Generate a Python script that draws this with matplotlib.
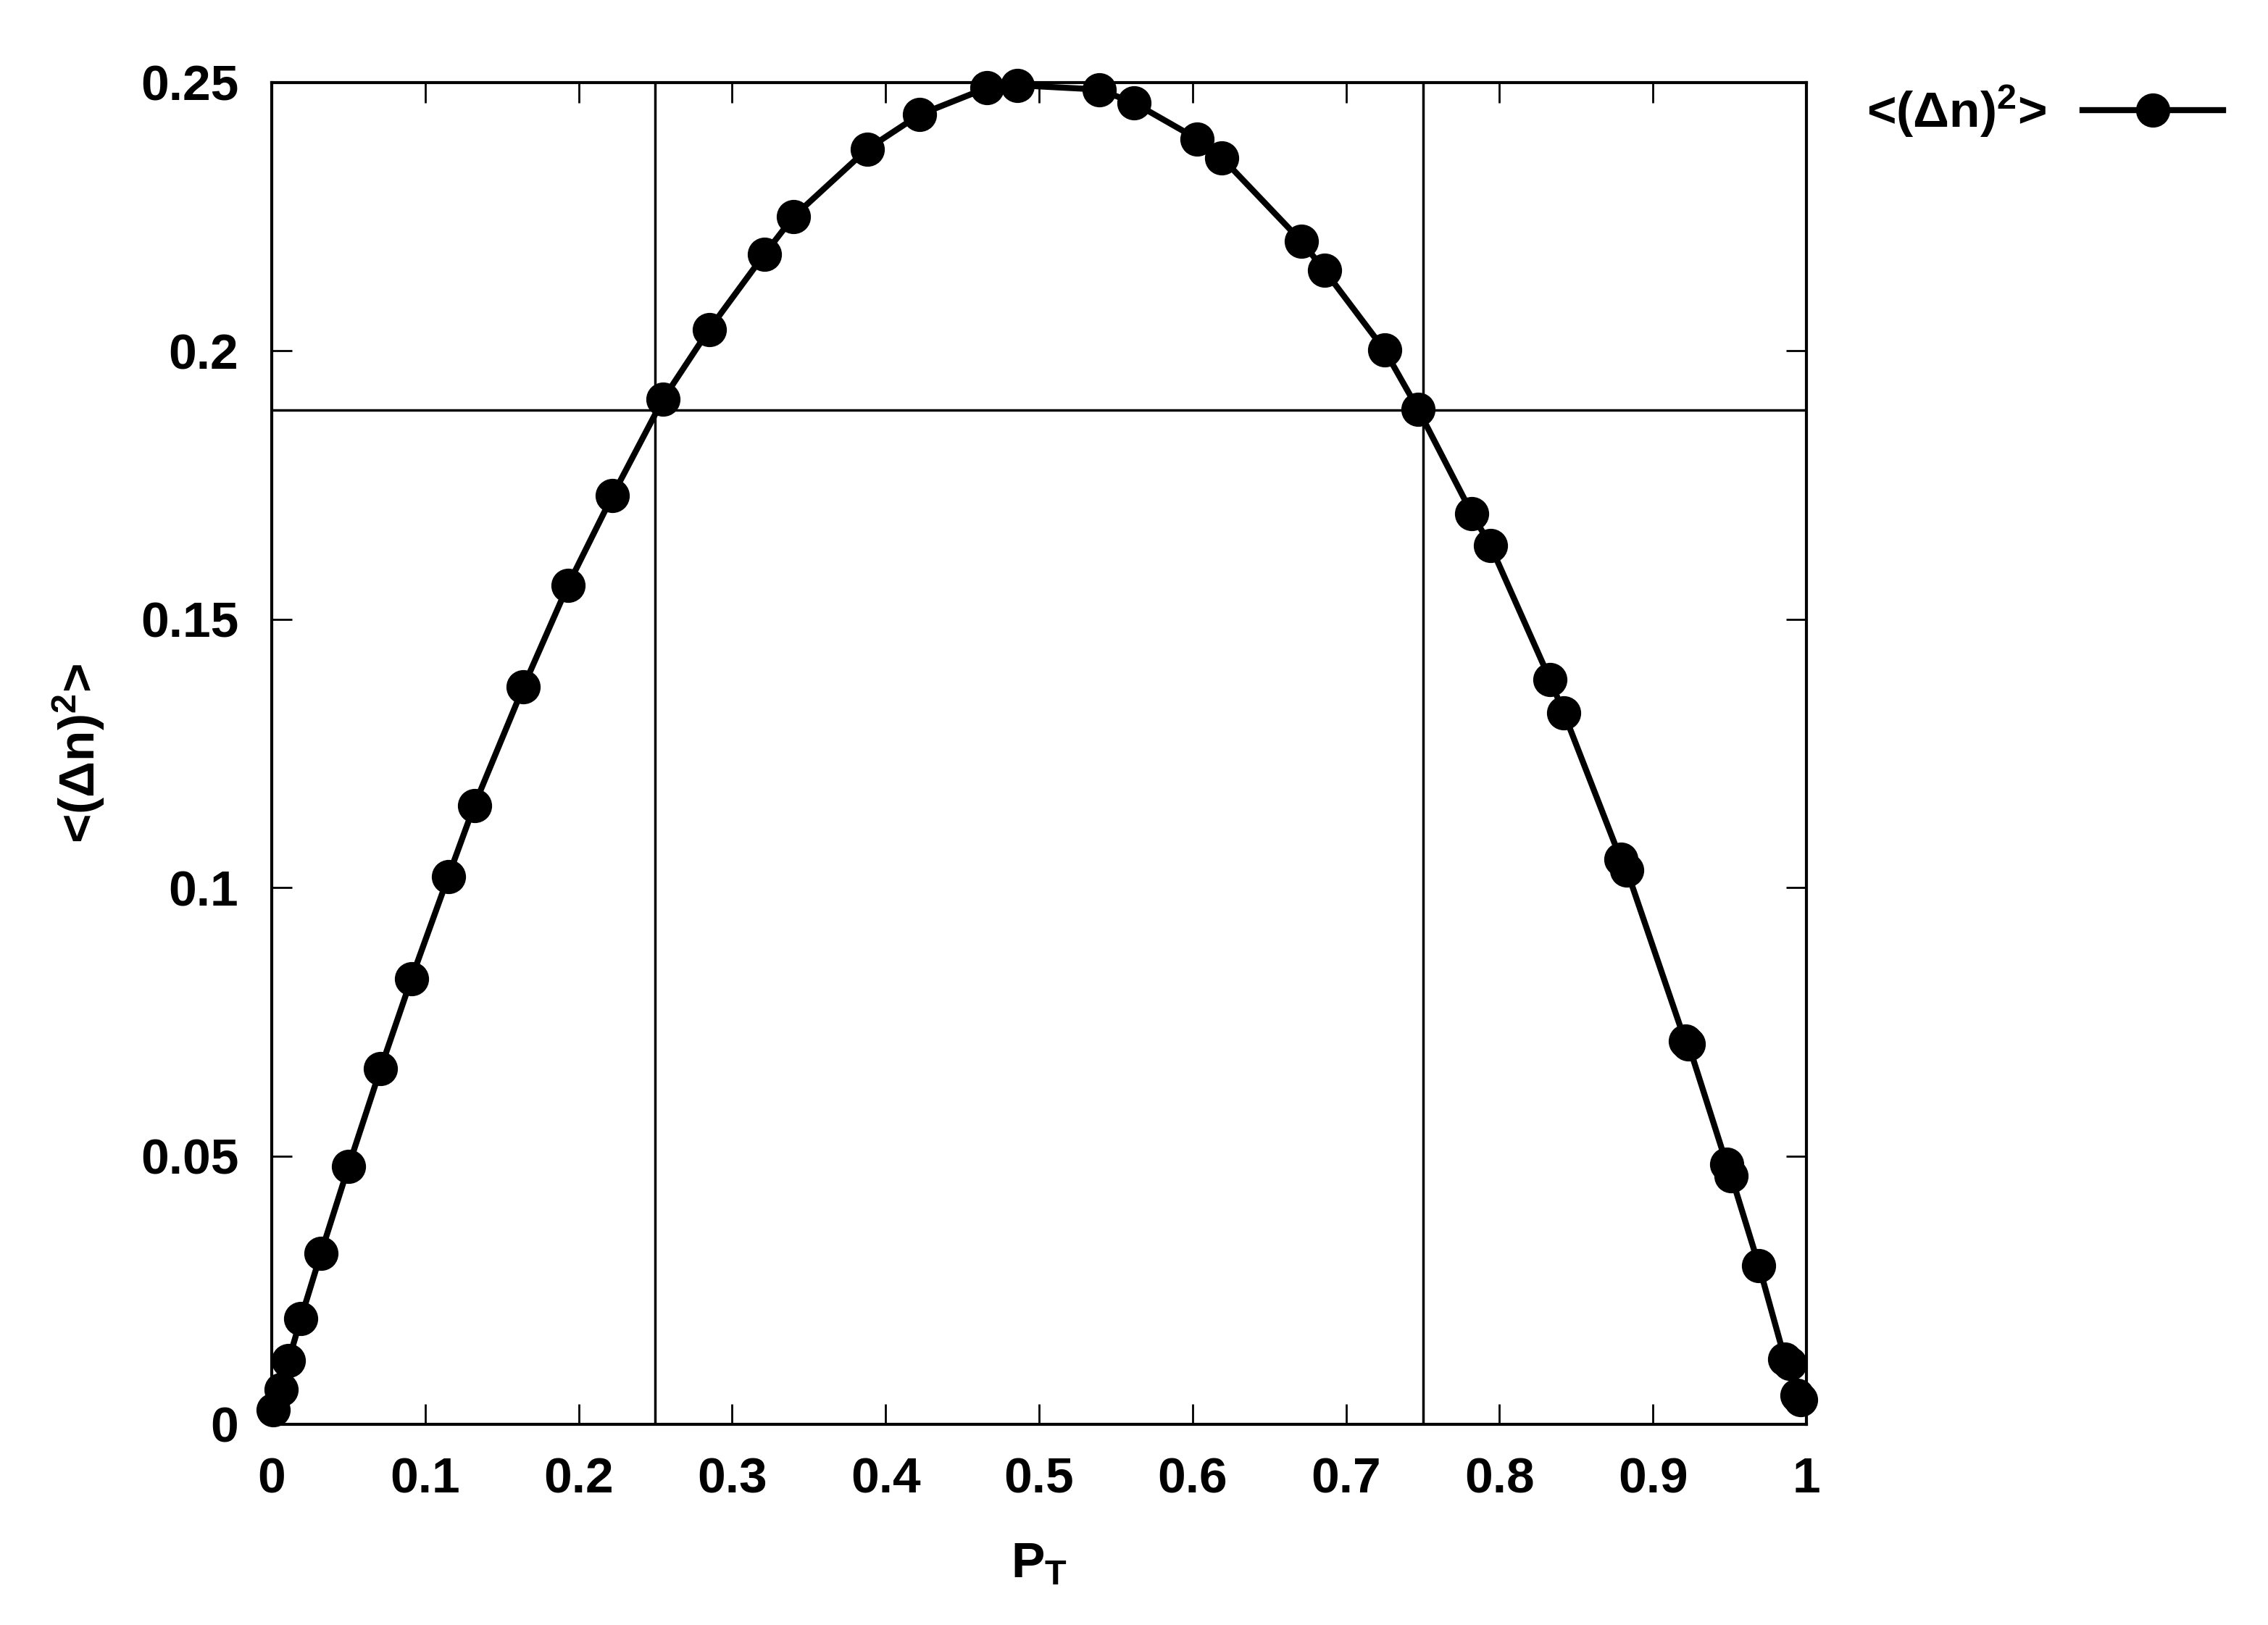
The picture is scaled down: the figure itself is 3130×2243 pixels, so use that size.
import matplotlib
matplotlib.use('Agg')
import matplotlib.pyplot as plt

# values
p_t = [0.001, 0.006, 0.011, 0.019, 0.032, 0.050, 0.071, 0.091, 0.115, 0.132,
       0.164, 0.193, 0.222, 0.255, 0.285, 0.321, 0.340, 0.388, 0.422, 0.466,
       0.486, 0.539, 0.562, 0.603, 0.619, 0.671, 0.686, 0.725, 0.747, 0.782,
       0.794, 0.833, 0.842, 0.879, 0.883, 0.921, 0.923, 0.948, 0.951, 0.969,
       0.986, 0.989, 0.994, 0.996]
dn2 = [0.0027, 0.0065, 0.0119, 0.0197, 0.0318, 0.0480, 0.0663, 0.0830, 0.1020, 0.1153,
       0.1374, 0.1563, 0.1730, 0.1910, 0.2040, 0.2180, 0.2250, 0.2376, 0.2440, 0.2490,
       0.2495, 0.2487, 0.2462, 0.2395, 0.2360, 0.2204, 0.2150, 0.2002, 0.1891, 0.1697,
       0.1638, 0.1387, 0.1325, 0.1053, 0.1032, 0.0714, 0.0709, 0.0485, 0.0463, 0.0296,
       0.0121, 0.0113, 0.0054, 0.0046]

x_ticks = [0, 0.1, 0.2, 0.3, 0.4, 0.5, 0.6, 0.7, 0.8, 0.9, 1.0]
x_tick_labels = ['0', '0.1', '0.2', '0.3', '0.4', '0.5', '0.6', '0.7', '0.8', '0.9', '1']
y_ticks = [0, 0.05, 0.1, 0.15, 0.2, 0.25]
y_tick_labels = ['0', '0.05', '0.1', '0.15', '0.2', '0.25']

# reference lines
v_lines = [0.25, 0.75]
h_line = 0.189

plt.rcParams['font.family'] = ['Liberation Sans', 'DejaVu Sans']
plt.rcParams['font.weight'] = 'bold'
plt.rcParams['mathtext.fontset'] = 'custom'
plt.rcParams['mathtext.rm'] = 'Liberation Sans'
plt.rcParams['mathtext.it'] = 'Liberation Sans:italic'
plt.rcParams['mathtext.bf'] = 'Liberation Sans:bold'

fs = 50

fig = plt.figure(figsize=(31.3, 22.43), dpi=100)
ax = fig.add_axes([0.1198, 0.1235, 0.6767, 0.8257])

for v in v_lines:
    ax.axvline(v, color='black', lw=2.5, zorder=1)
ax.axhline(h_line, color='black', lw=2.5, zorder=1)

label = r'<($\Delta$n)$^{\mathbf{2}}$>'
ax.plot(p_t, dn2, color='black', lw=6, marker='o', markersize=33,
        clip_on=False, zorder=3, label=label)

ax.set_xlim(0, 1)
ax.set_ylim(0, 0.25)
ax.set_xticks(x_ticks)
ax.set_xticklabels(x_tick_labels)
ax.set_yticks(y_ticks)
ax.set_yticklabels(y_tick_labels)

ax.tick_params(direction='in', length=20, width=2, top=True, right=True,
               labelsize=fs)
ax.tick_params(axis='x', pad=32)
ax.tick_params(axis='y', pad=33)
for lab in ax.get_xticklabels() + ax.get_yticklabels():
    lab.set_fontweight('bold')
for s in ax.spines.values():
    s.set_linewidth(3)

ax.set_xlabel(r'P$_{\mathbf{T}}$', fontsize=fs, fontweight='bold', labelpad=38)
ax.set_ylabel(r'<($\Delta$n)$^{\mathbf{2}}$>', fontsize=fs, fontweight='bold', labelpad=34)

fig.legend(loc='center right', bbox_to_anchor=(3068 / 3130, 1 - 154 / 2243),
           frameon=False, fontsize=fs, markerfirst=False, handlelength=2.8,
           handletextpad=0.7, borderpad=0, borderaxespad=0,
           prop={'weight': 'bold', 'size': fs})

fig.savefig('out.png', dpi=100)
